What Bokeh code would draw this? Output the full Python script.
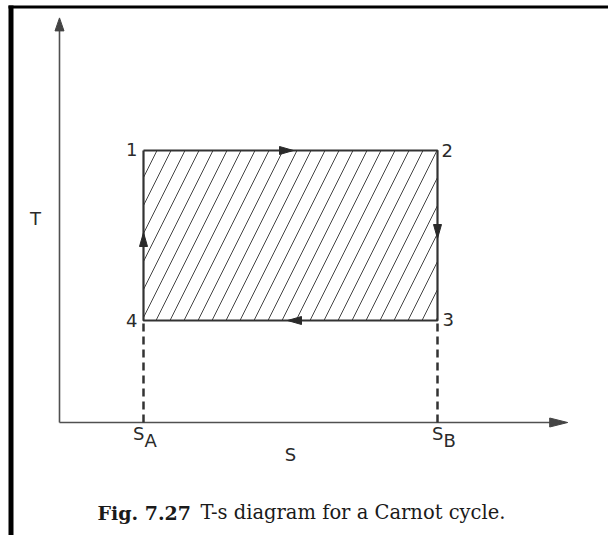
from bokeh.plotting import figure
from bokeh.models import Range1d, Label
from bokeh.embed import file_html
from bokeh.resources import INLINE

# ---- data: the Carnot cycle in T-s coordinates ----
state_labels = ["1", "2", "3", "4"]
state_s = [1.0, 4.5, 4.5, 1.0]
state_T = [4.0, 4.0, 1.5, 1.5]
s_A, s_B = 1.0, 4.5
T_high, T_low = 4.0, 1.5
s_axis_end = 6.05
T_axis_end = 5.95
axis_label_T = "T"
axis_label_s = "S"
caption_bold = "Fig. 7.27"
caption_text = "T-s diagram for a Carnot cycle."

# ---- layout (pixels per data unit) ----
W, H = 608, 535
PX_X, PX_Y = 84.0, 68.0
ORIGIN_X, ORIGIN_Y = 59, 422  # origin position on the canvas (from left, from top)


def dx_(px):
    return (px - ORIGIN_X) / PX_X


def dy_(py):
    return (ORIGIN_Y - py) / PX_Y


p = figure(width=W, height=H, output_backend="svg", toolbar_location=None,
           x_range=Range1d(dx_(0), dx_(W)), y_range=Range1d(dy_(H), dy_(0)),
           x_axis_location=None, y_axis_location=None,
           min_border=0, border_fill_color="white", background_fill_color="white",
           outline_line_color=None)
p.grid.visible = False

INK = "#333333"

# scanned page frame (left and top black edges)
p.quad(left=[dx_(8), dx_(8)], right=[dx_(13), dx_(W)], bottom=[dy_(H), dy_(8)], top=[dy_(5), dy_(5)],
       fill_color="black", line_color=None)


def triangle(tip_x, tip_y, ux, uy, length, width):
    px = [0, -ux * length - uy * width / 2, -ux * length + uy * width / 2]
    py = [0, -uy * length + ux * width / 2, -uy * length - ux * width / 2]
    return ([tip_x + a / PX_X for a in px], [tip_y + b / PX_Y for b in py])


# axes
p.line([0, 0], [0, T_axis_end - 8 / PX_Y], line_color="#505050", line_width=1.6)
p.line([0, s_axis_end - 10 / PX_X], [0, 0], line_color="#505050", line_width=1.6)
ax_tx, ax_ty = triangle(0, T_axis_end, 0, 1, 13, 9)
bx_tx, bx_ty = triangle(s_axis_end, 0, 1, 0, 18, 9)
p.patches([ax_tx, bx_tx], [ax_ty, bx_ty], fill_color="#444444", line_color="#444444", line_width=1)

# dashed projections to S_A and S_B
p.multi_line([[s_A, s_A], [s_B, s_B]], [[0, T_low], [0, T_low]],
             line_color=INK, line_width=2.5, line_dash="8 5")

# hatched cycle area
p.quad(left=[min(state_s)], right=[max(state_s)], bottom=[min(state_T)], top=[max(state_T)],
       fill_color=None, line_color=None,
       hatch_pattern="/", hatch_scale=28, hatch_weight=1.0, hatch_color="#444444")
p.line(state_s + state_s[:1], state_T + state_T[:1], line_color=INK, line_width=2.2)

# process direction arrows at the middle of each edge
txs, tys = [], []
for i in range(4):
    j = (i + 1) % 4
    ms = (state_s[i] + state_s[j]) / 2
    mT = (state_T[i] + state_T[j]) / 2
    ux = (state_s[j] > state_s[i]) - (state_s[j] < state_s[i])
    uy = (state_T[j] > state_T[i]) - (state_T[j] < state_T[i])
    L = 14
    tip_s = ms + ux * 3 / PX_X
    tip_T = mT + uy * 3 / PX_Y
    tx, ty = triangle(tip_s, tip_T, ux, uy, L, 8)
    txs.append(tx)
    tys.append(ty)
p.patches(txs, tys, fill_color="#2a2a2a", line_color="#2a2a2a", line_width=1)

# labels
FONT = "DejaVu Sans"
label_style = dict(text_font=FONT, text_font_size="18px", text_color="#2a2a2a",
                   text_baseline="middle")
offsets = {"1": ("right", -6, 1), "2": ("left", 4, 0), "3": ("left", 5, 1), "4": ("right", -6, 0)}
for lab, s, T in zip(state_labels, state_s, state_T):
    al, xo, yo = offsets[lab]
    p.add_layout(Label(x=s, y=T, text=lab, text_align=al, x_offset=xo, y_offset=yo, **label_style))

p.add_layout(Label(x=0, y=(T_low + T_high) / 2 + 0.25, text=axis_label_T, text_align="center",
                   x_offset=-24, **label_style))
p.add_layout(Label(x=(s_A + s_B) / 2, y=0, text=axis_label_s, text_align="center",
                   y_offset=-32, **label_style))
for s, sub, xo in [(s_A, "A", 1), (s_B, "B", 6)]:
    p.add_layout(Label(x=s, y=0, text="S", text_align="right", x_offset=xo, y_offset=-11, **label_style))
    p.add_layout(Label(x=s, y=0, text=sub, text_align="left", x_offset=xo, y_offset=-18, **label_style))

# caption
cap_y = dy_(512)
p.add_layout(Label(x=dx_(97), y=cap_y, text=caption_bold, text_font="DejaVu Serif",
                   text_font_size="19px", text_font_style="bold", text_color="#1a1a1a",
                   text_align="left", text_baseline="alphabetic"))
p.add_layout(Label(x=dx_(505), y=cap_y, text=caption_text, text_font="DejaVu Serif",
                   text_font_size="19.5px", text_color="#1a1a1a",
                   text_align="right", text_baseline="alphabetic"))

open("out.html", "w").write(file_html(p, INLINE))
